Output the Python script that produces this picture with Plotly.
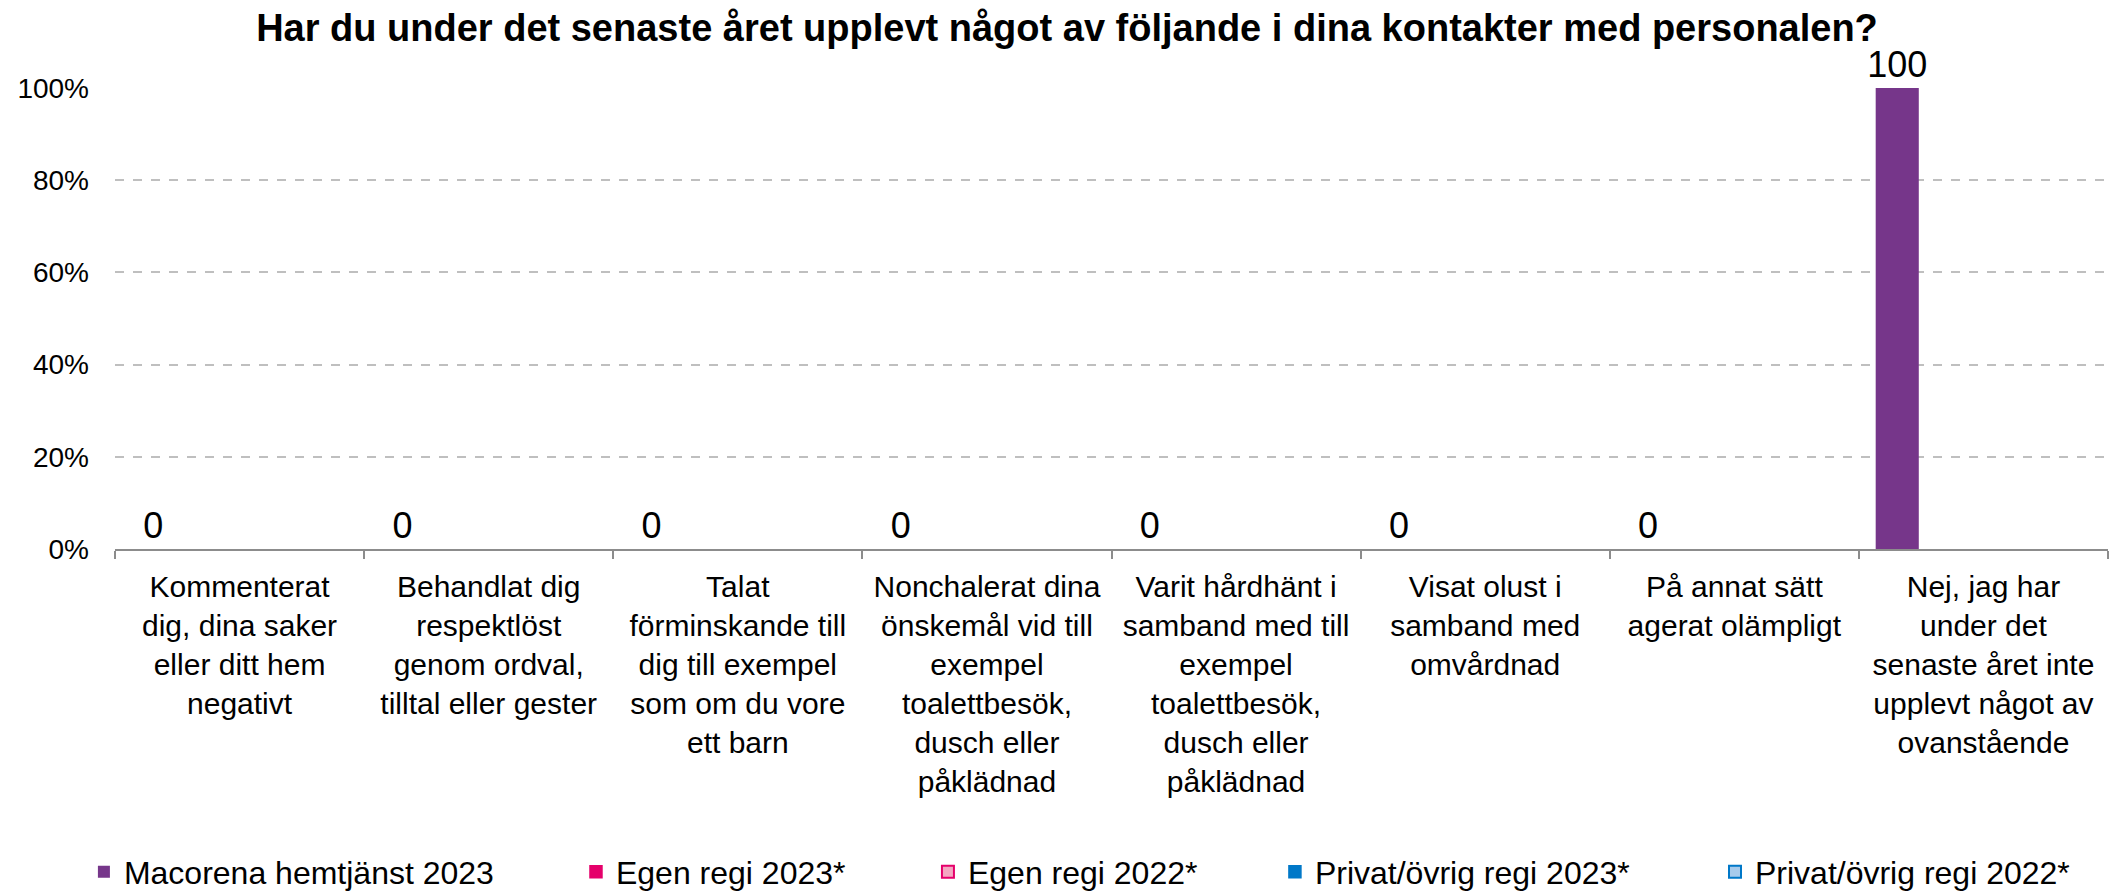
import plotly.graph_objects as go

TITLE = "<b>Har du under det senaste året upplevt något av följande i dina kontakter med personalen?</b>"

categories = [
    "Kommenterat<br>dig, dina saker<br>eller ditt hem<br>negativt",
    "Behandlat dig<br>respektlöst<br>genom ordval,<br>tilltal eller gester",
    "Talat<br>förminskande till<br>dig till exempel<br>som om du vore<br>ett barn",
    "Nonchalerat dina<br>önskemål vid till<br>exempel<br>toalettbesök,<br>dusch eller<br>påklädnad",
    "Varit hårdhänt i<br>samband med till<br>exempel<br>toalettbesök,<br>dusch eller<br>påklädnad",
    "Visat olust i<br>samband med<br>omvårdnad",
    "På annat sätt<br>agerat olämpligt",
    "Nej, jag har<br>under det<br>senaste året inte<br>upplevt något av<br>ovanstående",
]

series_names = [
    "Macorena hemtjänst 2023",
    "Egen regi 2023*",
    "Egen regi 2022*",
    "Privat/övrig regi 2023*",
    "Privat/övrig regi 2022*",
]

macorena_2023 = [0, 0, 0, 0, 0, 0, 0, 100]
egen_2023 = [None] * 8
egen_2022 = [None] * 8
privat_2023 = [None] * 8
privat_2022 = [None] * 8

y_ticks = [0, 20, 40, 60, 80, 100]
y_tick_labels = ["0%", "20%", "40%", "60%", "80%", "100%"]

FONT = "Liberation Sans, Arial, sans-serif"

# fill colour, border colour, border width
styles = [
    ("#76368A", "#76368A", 0),
    ("#E5006B", "#E5006B", 1.5),
    ("#F4A7C1", "#E5006B", 2),
    ("#0078C8", "#0078C8", 1.5),
    ("#A7CBEC", "#0078C8", 2),
]

# one legend per series so the entries spread out like the original
legend_ids = ["legend", "legend2", "legend3", "legend4", "legend5"]
legend_x = [-0.0156, 0.2313, 0.4079, 0.582, 0.8028]

fig = go.Figure()
for name, values, (fill, line, lw), lid in zip(
    series_names,
    [macorena_2023, egen_2023, egen_2022, privat_2023, privat_2022],
    styles,
    legend_ids,
):
    has_data = any(v is not None for v in values)
    fig.add_trace(
        go.Bar(
            x=categories,
            y=values,
            name=name,
            legend=lid,
            marker=dict(color=fill, line=dict(color=line, width=lw)),
            text=[f"{v:g}" if v is not None else "" for v in values] if has_data else None,
            textposition="outside",
            constraintext="none",
            textfont=dict(family=FONT, size=36, color="#000000"),
            cliponaxis=False,
        )
    )

legend_style = dict(
    orientation="h",
    xanchor="left",
    y=-0.7007,
    yanchor="middle",
    font=dict(family=FONT, size=32, color="#000000"),
    bgcolor="rgba(0,0,0,0)",
)

# the page body adds an 8px margin, so the figure is 8px smaller than the window
fig.update_layout(
    width=2118,
    height=883,
    barmode="group",
    bargap=0.135,
    bargroupgap=0,
    plot_bgcolor="white",
    paper_bgcolor="white",
    font=dict(family=FONT, size=28, color="#000000"),
    margin=dict(l=107, r=18, t=80, b=342, autoexpand=False),
    title=dict(
        text=TITLE,
        x=0.5,
        xanchor="center",
        y=0.978,
        yanchor="middle",
        font=dict(family=FONT, size=38, color="#000000"),
    ),
    showlegend=True,
)
for lid, lx in zip(legend_ids, legend_x):
    fig.update_layout({lid: dict(legend_style, x=lx)})

fig.update_xaxes(
    automargin=False,
    showline=True,
    linecolor="#8C8C8C",
    linewidth=2,
    ticks="outside",
    tickson="boundaries",
    ticklen=8,
    tickcolor="#8C8C8C",
    tickwidth=2,
    showgrid=False,
    ticklabelstandoff=10,
    tickfont=dict(family=FONT, size=30),
)

fig.update_yaxes(
    automargin=False,
    range=[0, 100],
    tickvals=y_ticks,
    ticktext=y_tick_labels,
    showgrid=True,
    gridcolor="#BFBFBF",
    gridwidth=1.5,
    griddash="dash",
    zeroline=False,
    showline=False,
    ticks="",
    ticklabelstandoff=25,
    tickfont=dict(family=FONT, size=28),
)

fig.write_html("out.html")
